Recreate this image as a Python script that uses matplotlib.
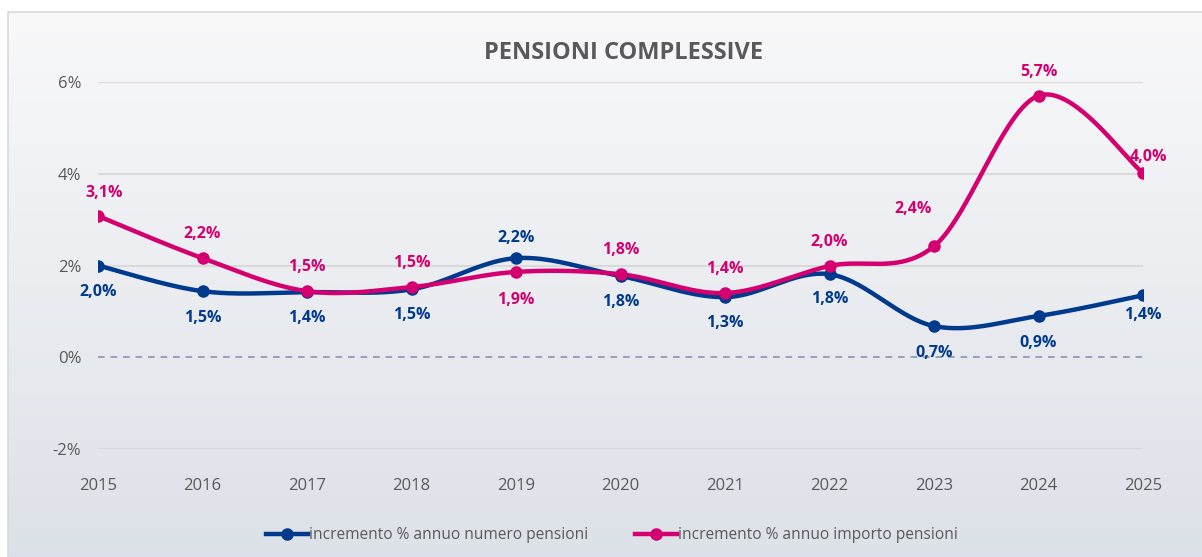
import numpy as np
import matplotlib
matplotlib.use("Agg")
import matplotlib.pyplot as plt
from matplotlib.patches import Rectangle

years = [2015, 2016, 2017, 2018, 2019, 2020, 2021, 2022, 2023, 2024, 2025]
numero = [2.00, 1.44, 1.42, 1.48, 2.16, 1.77, 1.31, 1.81, 0.68, 0.90, 1.35]
importo = [3.08, 2.16, 1.44, 1.53, 1.86, 1.81, 1.40, 1.99, 2.42, 5.70, 4.02]
numero_labels = ["2,0%", "1,5%", "1,4%", "1,5%", "2,2%", "1,8%", "1,3%", "1,8%", "0,7%", "0,9%", "1,4%"]
importo_labels = ["3,1%", "2,2%", "1,5%", "1,5%", "1,9%", "1,8%", "1,4%", "2,0%", "2,4%", "5,7%", "4,0%"]
yticks = [-2, 0, 2, 4, 6]
ytick_labels = ["-2%", "0%", "2%", "4%", "6%"]
title = "PENSIONI COMPLESSIVE"
legend_labels = ["incremento % annuo numero pensioni", "incremento % annuo importo pensioni"]

# label offsets in pixels (dx, dy), style only
numero_off = [(0, -26), (0, -27), (0, -26), (0, -26), (0, 20), (0, -26), (0, -26), (0, -25), (0, -27), (0, -27), (0, -20)]
importo_off = [(6, 23), (0, 24), (0, 24), (0, 24), (0, -28), (0, 24), (0, 24), (0, 24), (-21, 37), (0, 24), (6, 16)]

BLUE = "#003a8c"
PINK = "#d4006f"
FONT = ["Open Sans", "DejaVu Sans"]


def smooth(xs, ys, n=40):
    xs = np.asarray(xs, float)
    ys = np.asarray(ys, float)
    px = np.concatenate([[xs[0]], xs, [xs[-1]]])
    py = np.concatenate([[ys[0]], ys, [ys[-1]]])
    outx, outy = [], []
    t = np.linspace(0, 1, n)
    for i in range(1, len(px) - 2):
        p0 = np.array([px[i - 1], py[i - 1]])
        p1 = np.array([px[i], py[i]])
        p2 = np.array([px[i + 1], py[i + 1]])
        p3 = np.array([px[i + 2], py[i + 2]])
        c1 = p1 + (p2 - p0) / 6.0
        c2 = p2 - (p3 - p1) / 6.0
        b = ((1 - t) ** 3)[:, None] * p1 + (3 * (1 - t) ** 2 * t)[:, None] * c1 \
            + (3 * (1 - t) * t ** 2)[:, None] * c2 + (t ** 3)[:, None] * p2
        outx.extend(b[:, 0])
        outy.extend(b[:, 1])
    return np.array(outx), np.array(outy)


W, H = 1202, 557
fig = plt.figure(figsize=(W / 100, H / 100), dpi=100)
fig.patch.set_facecolor("white")

# gradient background frame
bg = fig.add_axes([8 / W, 0, 1 - 8 / W, 1 - 12 / H], zorder=-5)
grad = np.linspace(0, 1, 256)[:, None]
top = np.array([0.976, 0.976, 0.980])
bot = np.array([0.866, 0.882, 0.910])
img = top[None, None, :] * (1 - grad[:, :, None]) + bot[None, None, :] * grad[:, :, None]
bg.imshow(img, aspect="auto", extent=[0, 1, 0, 1])
bg.set_xlim(0, 1)
bg.set_ylim(0, 1)
bg.axis("off")
fig.patches.append(Rectangle((8 / W, -0.01), 1.0, 1 - 12 / H + 0.01, transform=fig.transFigure,
                             fill=False, edgecolor="#d9d9d9", linewidth=1.2, zorder=-4))

ax = fig.add_axes([98 / W, 1 - 449 / H, 1045 / W, (449 - 82) / H])
ax.patch.set_alpha(0)
ax.set_xlim(years[0], years[-1])
ax.set_ylim(-2, 6)
for s in ax.spines.values():
    s.set_visible(False)

for yv in [-2, 2, 4, 6]:
    ax.axhline(yv, color="#d9d9d9", lw=1.5, zorder=1)
ax.axhline(0, color="#8497b0", lw=1.2, ls=(0, (4, 3.5)), zorder=1)

ax.set_yticks(yticks)
ax.set_yticklabels(ytick_labels)
ax.set_xticks(years)
ax.set_xticklabels([str(y) for y in years])
ax.tick_params(axis="both", length=0, labelsize=12, labelcolor="#595959")
ax.tick_params(axis="y", pad=12)
ax.tick_params(axis="x", pad=21)
for lab in ax.get_xticklabels() + ax.get_yticklabels():
    lab.set_fontfamily(FONT)

for vals, col, labs, offs, name in [(numero, BLUE, numero_labels, numero_off, legend_labels[0]),
                                     (importo, PINK, importo_labels, importo_off, legend_labels[1])]:
    sx, sy = smooth(years, vals)
    ax.plot(sx, sy, color=col, lw=3.2, zorder=3, solid_capstyle="round")
    ax.plot(years, vals, "o", color=col, ms=8, zorder=4)
    ax.plot([], [], color=col, lw=3.2, marker="o", ms=8, label=name)
    for x, y, t, (dx, dy) in zip(years, vals, labs, offs):
        ax.annotate(t, (x, y), xytext=(dx * 0.72, dy * 0.72), textcoords="offset points",
                    ha="center", va="center", fontsize=11.5, fontweight="bold", color=col,
                    family=FONT, zorder=5, annotation_clip=False)

fig.text(624 / W, 1 - 53 / H, title, ha="center", va="center", fontsize=17, fontweight="bold",
         color="#595959", family=FONT)

leg = fig.legend(loc="center", bbox_to_anchor=(612 / W, 1 - 535 / H), ncol=2, frameon=False,
                 prop={"family": FONT, "size": 11.2}, labelcolor="#595959", handlelength=2.7,
                 handletextpad=0.05, columnspacing=3.0)

fig.savefig("out.png", dpi=100)
